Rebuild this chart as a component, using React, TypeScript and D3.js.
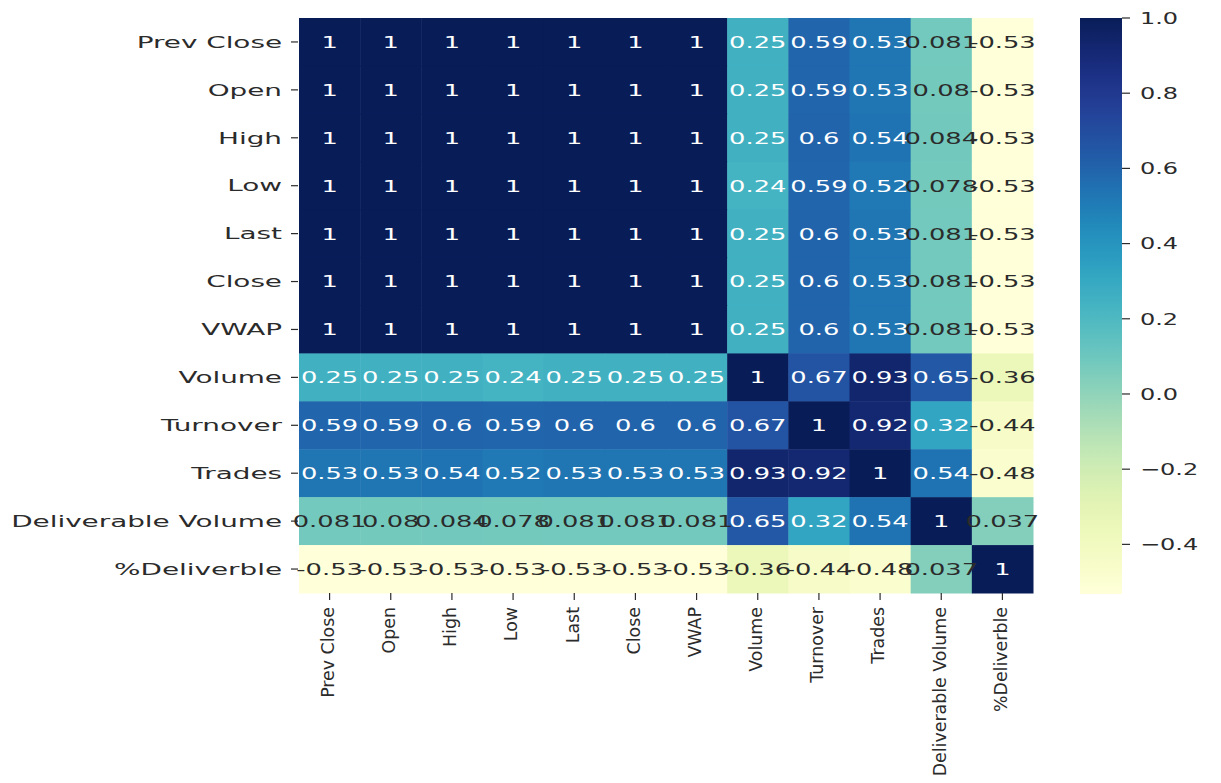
import * as d3 from "d3";
import React from "react";

// correlation matrix, one row per variable
const labels = ["Prev Close", "Open", "High", "Low", "Last", "Close", "VWAP", "Volume", "Turnover", "Trades", "Deliverable Volume", "%Deliverble"];

const prevClose = [1, 1, 1, 1, 1, 1, 1, 0.25, 0.59, 0.53, 0.081, -0.53];
const open = [1, 1, 1, 1, 1, 1, 1, 0.25, 0.59, 0.53, 0.08, -0.53];
const high = [1, 1, 1, 1, 1, 1, 1, 0.25, 0.6, 0.54, 0.084, -0.53];
const low = [1, 1, 1, 1, 1, 1, 1, 0.24, 0.59, 0.52, 0.078, -0.53];
const last = [1, 1, 1, 1, 1, 1, 1, 0.25, 0.6, 0.53, 0.081, -0.53];
const close = [1, 1, 1, 1, 1, 1, 1, 0.25, 0.6, 0.53, 0.081, -0.53];
const vwap = [1, 1, 1, 1, 1, 1, 1, 0.25, 0.6, 0.53, 0.081, -0.53];
const volume = [0.25, 0.25, 0.25, 0.24, 0.25, 0.25, 0.25, 1, 0.67, 0.93, 0.65, -0.36];
const turnover = [0.59, 0.59, 0.6, 0.59, 0.6, 0.6, 0.6, 0.67, 1, 0.92, 0.32, -0.44];
const trades = [0.53, 0.53, 0.54, 0.52, 0.53, 0.53, 0.53, 0.93, 0.92, 1, 0.54, -0.48];
const deliverableVolume = [0.081, 0.08, 0.084, 0.078, 0.081, 0.081, 0.081, 0.65, 0.32, 0.54, 1, 0.037];
const pctDeliverble = [-0.53, -0.53, -0.53, -0.53, -0.53, -0.53, -0.53, -0.36, -0.44, -0.48, 0.037, 1];

const matrix = [prevClose, open, high, low, last, close, vwap, volume, turnover, trades, deliverableVolume, pctDeliverble];

const colorbarTicks = [1.0, 0.8, 0.6, 0.4, 0.2, 0.0, -0.2, -0.4];
const vmin = -0.532;
const vmax = 1;

const FONT = "DejaVu Sans, Verdana, sans-serif";
const TEXT = "#2b2b2b";

// seaborn picks dark or white annotation text from the cell luminance
function luminance(c: string) {
  const rgb = d3.rgb(c);
  const lin = (v: number) => {
    const s = v / 255;
    return s <= 0.03928 ? s / 12.92 : Math.pow((s + 0.055) / 1.055, 2.4);
  };
  return 0.2126 * lin(rgb.r) + 0.7152 * lin(rgb.g) + 0.0722 * lin(rgb.b);
}

const fmt = d3.format(".2~g");

const App = () => {
  const width = 1221;
  const height = 783;

  const x = d3.scaleBand().domain(labels).range([299, 1033]);
  const y = d3.scaleBand().domain(labels).range([18, 593]);
  const color = d3.scaleSequential(d3.interpolateYlGnBu).domain([vmin, vmax]);

  const cbX = 1080;
  const cbW = 42;
  const cbY = d3.scaleLinear().domain([vmin, vmax]).range([594, 18]);

  const stops = d3.range(0, 1.0001, 0.025);

  return (
    <svg width={width} height={height} style={{ position: "absolute", left: 0, top: 0, background: "#fff" }}>
      <defs>
        <linearGradient id="cbar" x1="0" y1="1" x2="0" y2="0">
          {stops.map((t) => (
            <stop key={t} offset={t} stopColor={color(vmin + t * (vmax - vmin))} />
          ))}
        </linearGradient>
      </defs>

      {/* cells */}
      {matrix.map((row, i) =>
        row.map((v, j) => (
          <rect
            key={`${i}-${j}`}
            x={x(labels[j])}
            y={y(labels[i])}
            width={x.bandwidth() + 0.5}
            height={y.bandwidth() + 0.5}
            fill={color(v)}
          />
        ))
      )}

      {/* annotations */}
      {matrix.map((row, i) =>
        row.map((v, j) => {
          const cx = x(labels[j])! + x.bandwidth() / 2;
          const cy = y(labels[i])! + y.bandwidth() / 2;
          const fill = luminance(color(v)) > 0.408 ? TEXT : "#ffffff";
          return (
            <text
              key={`t${i}-${j}`}
              transform={`translate(${cx},${cy}) scale(1.56,1)`}
              textAnchor="middle"
              dy="0.36em"
              fontFamily={FONT}
              fontSize={16.5}
              fill={fill}
            >
              {fmt(v).replace("\u2212", "-")}
            </text>
          );
        })
      )}

      {/* y axis */}
      {labels.map((l) => {
        const cy = y(l)! + y.bandwidth() / 2;
        return (
          <g key={`y${l}`}>
            <line x1={291} x2={298} y1={cy} y2={cy} stroke={TEXT} strokeWidth={1.2} />
            <text
              transform={`translate(282,${cy}) scale(1.74,1)`}
              textAnchor="end"
              dy="0.36em"
              fontFamily={FONT}
              fontSize={16}
              fill={TEXT}
            >
              {l}
            </text>
          </g>
        );
      })}

      {/* x axis */}
      {labels.map((l) => {
        const cx = x(l)! + x.bandwidth() / 2;
        return (
          <g key={`x${l}`}>
            <line x1={cx} x2={cx} y1={593} y2={600} stroke={TEXT} strokeWidth={1.2} />
            <text
              transform={`translate(${cx - 2},607) rotate(-90)`}
              textAnchor="end"
              dy="0.36em"
              fontFamily={FONT}
              fontSize={17.4}
              fill={TEXT}
            >
              {l}
            </text>
          </g>
        );
      })}

      {/* colorbar */}
      <rect x={cbX} y={cbY(vmax)} width={cbW} height={cbY(vmin) - cbY(vmax)} fill="url(#cbar)" />
      {colorbarTicks.map((t) => (
        <g key={`c${t}`}>
          <line x1={cbX + cbW} x2={cbX + cbW + 8} y1={cbY(t)} y2={cbY(t)} stroke={TEXT} strokeWidth={1.2} />
          <text
            transform={`translate(${cbX + cbW + 18},${cbY(t)}) scale(1.5,1)`}
            dy="0.36em"
            fontFamily={FONT}
            fontSize={16}
            fill={TEXT}
          >
            {d3.format(".1f")(t)}
          </text>
        </g>
      ))}
    </svg>
  );
};

export default App;
